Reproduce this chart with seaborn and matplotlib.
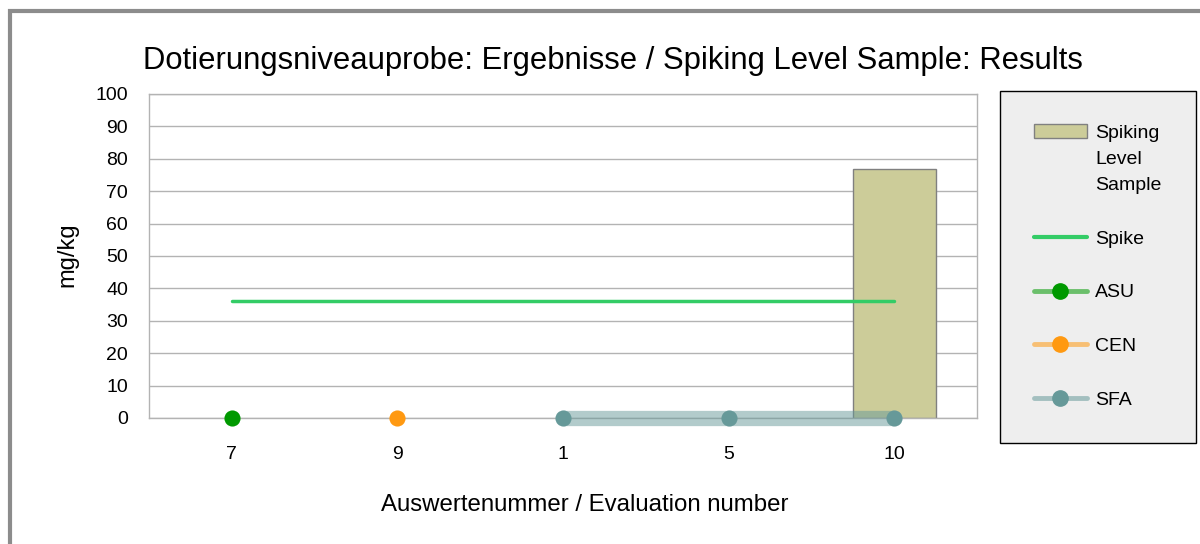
import numpy as np
import pandas as pd
import matplotlib
matplotlib.use("Agg")
import matplotlib.pyplot as plt
from matplotlib.patches import Patch, Rectangle
from matplotlib.lines import Line2D
from matplotlib.legend_handler import HandlerTuple, HandlerPatch
import seaborn as sns

# Daten
categories = ["7", "9", "1", "5", "10"]
sample = [np.nan, np.nan, np.nan, np.nan, 77]
spike = [36, 36, 36, 36, 36]
asu = [0, np.nan, np.nan, np.nan, np.nan]
cen = [np.nan, 0, np.nan, np.nan, np.nan]
sfa = [np.nan, np.nan, 0, 0, 0]

df = pd.DataFrame({"cat": categories, "sample": sample, "spike": spike,
                   "ASU": asu, "CEN": cen, "SFA": sfa})
df["pos"] = np.arange(len(df))

sns.set_style("white")
plt.rcParams["font.family"] = ["Liberation Sans", "DejaVu Sans"]
plt.rcParams["text.color"] = "black"

grid_c = "#b3b3b3"
fig = plt.figure(figsize=(12, 5.44), dpi=100)
ax = fig.add_axes([149/1200, 1-418/544, 828/1200, 324/544])

sns.barplot(data=df, x="cat", y="sample", order=categories, width=0.5,
            color="#cccc99", saturation=1, edgecolor="#808080", linewidth=1,
            ax=ax, zorder=2)

sns.lineplot(data=df, x="pos", y="spike", color="#33cc66", linewidth=2.5,
             ax=ax, zorder=3)
ax.plot(df["pos"], df["SFA"], color="#669999", alpha=0.5, linewidth=11,
        solid_capstyle="butt", zorder=3, clip_on=False)
for col, c in [("SFA", "#669999"), ("ASU", "#009900"), ("CEN", "#ff9911")]:
    sns.scatterplot(data=df, x="pos", y=col, color=c, s=135,
                    linewidth=0, ax=ax, zorder=4, clip_on=False)

ax.set_xlim(-0.5, len(categories) - 0.5)
ax.set_ylim(0, 100)
ax.set_yticks(np.arange(0, 101, 10))
ax.set_xticks(df["pos"])
ax.set_xticklabels(categories)
ax.set_xticks(np.arange(len(categories) + 1) - 0.5, minor=True)
ax.yaxis.grid(True, color=grid_c, linewidth=1, zorder=0)
ax.set_axisbelow(True)
ax.tick_params(axis="x", which="major", length=0, labelsize=14, pad=20, labelcolor="black")
ax.tick_params(axis="x", which="minor", length=12, color=grid_c, width=1, direction="out")
ax.tick_params(axis="y", length=11, color=grid_c, width=1, labelsize=14, pad=4,
               direction="out", labelcolor="black")
for s in ax.spines.values():
    s.set_color(grid_c)
    s.set_linewidth(1)
ax.set_xlabel("")
ax.set_ylabel("")

fig.text(613/1200, 1-61/544, "Dotierungsniveauprobe: Ergebnisse / Spiking Level Sample: Results",
         ha="center", va="center", fontsize=22.3)
fig.text(584.5/1200, 1-505/544, "Auswertenummer / Evaluation number",
         ha="center", va="center", fontsize=17.3)
fig.text(67/1200, 1-255/544, "mg/kg", ha="center", va="center", rotation=90, fontsize=17)


def marker_line(c):
    ln = Line2D([], [], color=c, linewidth=3.5, alpha=0.55)
    mk = Line2D([], [], color=c, marker="o", markersize=11, linestyle="none")
    return (ln, mk)


def top_patch(legend, orig_handle, xdescent, ydescent, width, height, fontsize):
    # Rechteck auf Hoehe der ersten Textzeile
    return Rectangle((-xdescent, -ydescent + 1.45 * fontsize), width, height)


handles = [
    Patch(facecolor="#cccc99", edgecolor="#808080"),
    Line2D([], [], color="#33cc66", linewidth=3),
    marker_line("#009900"),
    marker_line("#ff9911"),
    marker_line("#669999"),
]
labels = ["Spiking\nLevel\nSample", "Spike", "ASU", "CEN", "SFA"]
leg = fig.legend(handles, labels, loc="upper left",
                 bbox_to_anchor=(1000/1200, 1-91/544),
                 fontsize=14, frameon=True, fancybox=False,
                 facecolor="#eeeeee", edgecolor="black", framealpha=1,
                 handlelength=2.7, handleheight=0.7, labelspacing=1.85,
                 borderpad=1.75, handletextpad=0.45, borderaxespad=0,
                 handler_map={tuple: HandlerTuple(ndivide=1),
                              Patch: HandlerPatch(patch_func=top_patch)})
leg.get_frame().set_linewidth(1)
for t in leg.get_texts():
    t.set_linespacing(1.7)

fig.add_artist(Rectangle((10/1200, -0.1), 1.2, 1 - 11/544 + 0.1, fill=False,
                         edgecolor="#8c8c8c", linewidth=3, transform=fig.transFigure))

fig.savefig("out.png", dpi=100)
